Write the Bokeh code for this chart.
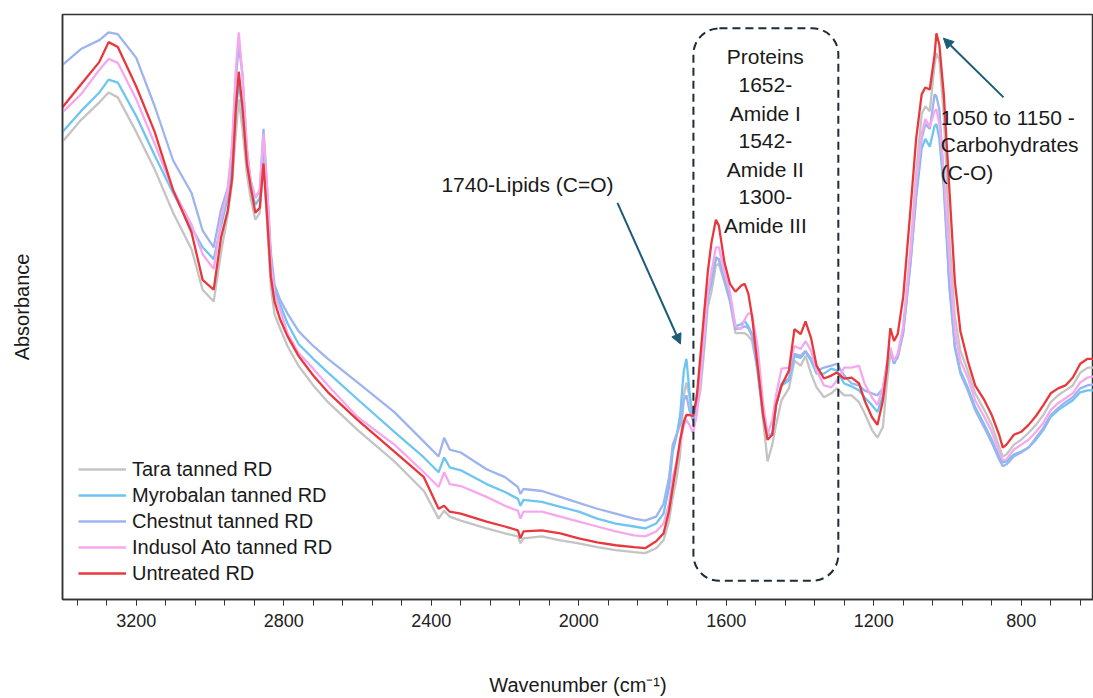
from bokeh.plotting import figure
from bokeh.models import Range1d, FixedTicker, Label, Arrow, NormalHead, Legend, LegendItem
from bokeh.embed import file_html
from bokeh.resources import INLINE

wavenumber = [3400, 3350, 3300, 3275, 3250, 3200, 3150, 3100, 3050, 3020,
              2990, 2970, 2952, 2940, 2930, 2922, 2912, 2900, 2890, 2877,
              2865, 2855, 2845, 2835, 2825, 2810, 2790, 2760, 2720, 2680,
              2600, 2500, 2420, 2380, 2365, 2350, 2320, 2250, 2200, 2165,
              2158, 2150, 2100, 2050, 2000, 1950, 1900, 1850, 1820, 1790,
              1770, 1755, 1745, 1735, 1725, 1715, 1708, 1700, 1690, 1680,
              1670, 1660, 1650, 1640, 1628, 1620, 1605, 1590, 1575, 1560,
              1550, 1540, 1530, 1515, 1500, 1488, 1475, 1465, 1450, 1430,
              1415, 1398, 1385, 1370, 1355, 1335, 1315, 1300, 1280, 1260,
              1240, 1225, 1205, 1190, 1175, 1165, 1155, 1145, 1135, 1120,
              1100, 1085, 1070, 1060, 1048, 1035, 1030, 1022, 1010, 995,
              980, 965, 945, 925, 900, 880, 860, 850, 840, 820,
              800, 780, 760, 740, 720, 700, 680, 660, 640, 620,
              604]

tara = [0.464, 0.486, 0.504, 0.514, 0.509, 0.474, 0.436, 0.392, 0.355, 0.314,
        0.302, 0.352, 0.390, 0.422, 0.472, 0.507, 0.477, 0.432, 0.407, 0.385,
        0.392, 0.444, 0.382, 0.317, 0.289, 0.275, 0.257, 0.237, 0.217, 0.200,
        0.172, 0.140, 0.110, 0.082, 0.090, 0.084, 0.080, 0.072, 0.067, 0.064,
        0.057, 0.062, 0.064, 0.060, 0.057, 0.053, 0.050, 0.048, 0.047, 0.052,
        0.060, 0.080, 0.104, 0.122, 0.147, 0.207, 0.220, 0.207, 0.182, 0.192,
        0.212, 0.252, 0.297, 0.312, 0.339, 0.340, 0.322, 0.302, 0.270, 0.270,
        0.270, 0.267, 0.262, 0.232, 0.182, 0.140, 0.157, 0.177, 0.202, 0.214,
        0.242, 0.237, 0.247, 0.229, 0.215, 0.205, 0.209, 0.214, 0.207, 0.207,
        0.200, 0.189, 0.172, 0.164, 0.175, 0.217, 0.250, 0.239, 0.247, 0.274,
        0.357, 0.432, 0.492, 0.500, 0.495, 0.542, 0.554, 0.547, 0.492, 0.367,
        0.287, 0.252, 0.232, 0.209, 0.192, 0.177, 0.155, 0.145, 0.147, 0.157,
        0.162, 0.169, 0.177, 0.187, 0.200, 0.207, 0.212, 0.217, 0.230, 0.235,
        0.235]

myrobalan = [0.474, 0.495, 0.514, 0.527, 0.524, 0.490, 0.450, 0.412, 0.377, 0.357,
             0.345, 0.379, 0.407, 0.442, 0.497, 0.522, 0.497, 0.447, 0.417, 0.400,
             0.407, 0.462, 0.407, 0.347, 0.314, 0.299, 0.280, 0.259, 0.244, 0.230,
             0.203, 0.170, 0.144, 0.129, 0.144, 0.134, 0.131, 0.117, 0.109, 0.102,
             0.095, 0.101, 0.099, 0.094, 0.089, 0.082, 0.077, 0.074, 0.072, 0.077,
             0.087, 0.114, 0.150, 0.165, 0.187, 0.232, 0.244, 0.212, 0.180, 0.197,
             0.222, 0.262, 0.307, 0.322, 0.345, 0.345, 0.324, 0.304, 0.277, 0.279,
             0.282, 0.277, 0.269, 0.232, 0.187, 0.167, 0.167, 0.197, 0.217, 0.222,
             0.247, 0.245, 0.251, 0.242, 0.229, 0.229, 0.234, 0.232, 0.219, 0.216,
             0.212, 0.205, 0.197, 0.190, 0.207, 0.232, 0.255, 0.239, 0.247, 0.272,
             0.342, 0.407, 0.457, 0.467, 0.459, 0.480, 0.482, 0.467, 0.417, 0.317,
             0.257, 0.232, 0.215, 0.195, 0.177, 0.162, 0.145, 0.139, 0.140, 0.147,
             0.150, 0.154, 0.162, 0.172, 0.185, 0.192, 0.197, 0.202, 0.210, 0.212,
             0.212]

chestnut = [0.542, 0.558, 0.567, 0.575, 0.573, 0.549, 0.500, 0.445, 0.412, 0.374,
            0.357, 0.395, 0.417, 0.457, 0.527, 0.562, 0.532, 0.457, 0.425, 0.407,
            0.415, 0.477, 0.417, 0.352, 0.319, 0.304, 0.290, 0.272, 0.257, 0.244,
            0.220, 0.190, 0.160, 0.145, 0.164, 0.152, 0.149, 0.132, 0.124, 0.114,
            0.107, 0.112, 0.110, 0.104, 0.098, 0.092, 0.087, 0.082, 0.080, 0.084,
            0.097, 0.124, 0.157, 0.167, 0.177, 0.202, 0.207, 0.192, 0.182, 0.207,
            0.227, 0.262, 0.307, 0.324, 0.347, 0.345, 0.324, 0.307, 0.274, 0.275,
            0.277, 0.275, 0.267, 0.237, 0.192, 0.167, 0.167, 0.197, 0.219, 0.224,
            0.249, 0.247, 0.252, 0.244, 0.232, 0.235, 0.237, 0.239, 0.227, 0.219,
            0.217, 0.212, 0.209, 0.207, 0.214, 0.237, 0.252, 0.241, 0.245, 0.270,
            0.342, 0.412, 0.467, 0.482, 0.477, 0.512, 0.510, 0.497, 0.427, 0.322,
            0.255, 0.229, 0.212, 0.192, 0.174, 0.159, 0.142, 0.135, 0.137, 0.145,
            0.149, 0.154, 0.164, 0.174, 0.187, 0.194, 0.200, 0.205, 0.214, 0.217,
            0.218]

indusol = [0.494, 0.512, 0.537, 0.548, 0.544, 0.507, 0.462, 0.415, 0.380, 0.350,
           0.335, 0.385, 0.414, 0.462, 0.537, 0.575, 0.532, 0.457, 0.424, 0.407,
           0.415, 0.472, 0.417, 0.342, 0.309, 0.294, 0.270, 0.250, 0.234, 0.217,
           0.185, 0.157, 0.129, 0.114, 0.129, 0.117, 0.115, 0.104, 0.095, 0.090,
           0.082, 0.089, 0.089, 0.084, 0.079, 0.074, 0.069, 0.065, 0.064, 0.069,
           0.077, 0.097, 0.124, 0.139, 0.157, 0.177, 0.182, 0.177, 0.169, 0.187,
           0.222, 0.267, 0.312, 0.332, 0.357, 0.357, 0.332, 0.312, 0.277, 0.274,
           0.284, 0.290, 0.289, 0.257, 0.199, 0.167, 0.182, 0.207, 0.234, 0.235,
           0.257, 0.254, 0.262, 0.252, 0.232, 0.217, 0.215, 0.222, 0.235, 0.235,
           0.237, 0.219, 0.205, 0.197, 0.215, 0.237, 0.255, 0.242, 0.249, 0.277,
           0.352, 0.422, 0.472, 0.487, 0.479, 0.495, 0.497, 0.482, 0.432, 0.347,
           0.272, 0.242, 0.225, 0.202, 0.185, 0.170, 0.150, 0.141, 0.142, 0.152,
           0.157, 0.162, 0.170, 0.179, 0.192, 0.199, 0.204, 0.209, 0.220, 0.225,
           0.226]

untreated = [0.499, 0.522, 0.545, 0.565, 0.560, 0.520, 0.474, 0.415, 0.372, 0.324,
             0.314, 0.367, 0.394, 0.427, 0.497, 0.535, 0.499, 0.442, 0.419, 0.392,
             0.397, 0.442, 0.387, 0.327, 0.302, 0.284, 0.267, 0.247, 0.227, 0.210,
             0.182, 0.150, 0.124, 0.092, 0.095, 0.089, 0.087, 0.079, 0.074, 0.070,
             0.062, 0.069, 0.070, 0.067, 0.062, 0.058, 0.055, 0.053, 0.052, 0.059,
             0.067, 0.090, 0.114, 0.137, 0.162, 0.180, 0.187, 0.187, 0.186, 0.205,
             0.247, 0.290, 0.332, 0.362, 0.385, 0.379, 0.342, 0.320, 0.312, 0.318,
             0.320, 0.310, 0.287, 0.237, 0.187, 0.162, 0.167, 0.197, 0.217, 0.232,
             0.274, 0.269, 0.282, 0.265, 0.237, 0.224, 0.227, 0.230, 0.224, 0.225,
             0.219, 0.202, 0.185, 0.177, 0.202, 0.232, 0.275, 0.262, 0.269, 0.307,
             0.397, 0.467, 0.512, 0.519, 0.517, 0.552, 0.574, 0.562, 0.512, 0.417,
             0.322, 0.272, 0.242, 0.217, 0.202, 0.187, 0.167, 0.154, 0.157, 0.167,
             0.170, 0.177, 0.186, 0.197, 0.209, 0.214, 0.217, 0.225, 0.239, 0.244,
             0.244]

series_names = ["Tara tanned RD", "Myrobalan tanned RD", "Chestnut tanned RD",
                "Indusol Ato tanned RD", "Untreated RD"]
series_values = [tara, myrobalan, chestnut, indusol, untreated]
series_colors = ["#c4c4c4", "#6ec5f2", "#9db4ef", "#f6a8ee", "#e8383c"]

major_ticks = [3200, 2800, 2400, 2000, 1600, 1200, 800]
minor_ticks = list(range(640, 3400, 80))

FONT = "Liberation Sans"

p = figure(width=1093, height=698, output_backend="svg", toolbar_location=None,
           x_range=Range1d(3400, 604), y_range=Range1d(0, 0.593),
           min_border_left=62, min_border_right=0, min_border_top=14, min_border_bottom=91)
p.background_fill_color = "white"
p.border_fill_color = "white"
p.outline_line_color = "#333333"
p.outline_line_width = 1.5
p.xgrid.visible = False
p.ygrid.visible = False

# x axis
p.xaxis.ticker = FixedTicker(ticks=major_ticks, minor_ticks=minor_ticks)
p.xaxis.axis_label = "Wavenumber (cm⁻¹)"
p.xaxis.axis_label_text_font = FONT
p.xaxis.axis_label_text_font_size = "20px"
p.xaxis.axis_label_text_font_style = "normal"
p.xaxis.axis_label_text_color = "#1a1a1a"
p.xaxis.axis_label_standoff = 44
p.xaxis.major_label_text_font = FONT
p.xaxis.major_label_text_font_size = "18px"
p.xaxis.major_label_text_color = "#222222"
p.xaxis.major_label_standoff = 8
p.xaxis.axis_line_color = "#333333"
p.xaxis.axis_line_width = 1.5
p.xaxis.major_tick_line_color = "#333333"
p.xaxis.minor_tick_line_color = "#333333"
p.xaxis.major_tick_in = 0
p.xaxis.major_tick_out = 6
p.xaxis.minor_tick_in = 0
p.xaxis.minor_tick_out = 6

# y axis
p.yaxis.ticker = FixedTicker(ticks=[])
p.yaxis.axis_label = "Absorbance"
p.yaxis.axis_label_text_font = FONT
p.yaxis.axis_label_text_font_size = "20px"
p.yaxis.axis_label_text_font_style = "normal"
p.yaxis.axis_label_text_color = "#1a1a1a"
p.yaxis.axis_label_standoff = 30
p.yaxis.axis_line_color = "#333333"
p.yaxis.axis_line_width = 1.5

# spectra
items = []
for name, vals, col in zip(series_names, series_values, series_colors):
    r = p.line(wavenumber, vals, line_color=col, line_width=2.3)
    items.append(LegendItem(label=name, renderers=[r]))

legend = Legend(items=items, location=(16, 13))
legend.glyph_width = 48
legend.glyph_height = 26
legend.label_height = 26
legend.spacing = 0
legend.padding = 0
legend.margin = 0
legend.label_standoff = 6
legend.border_line_color = None
legend.background_fill_alpha = 0
legend.label_text_font = FONT
legend.label_text_font_size = "20px"
legend.label_text_color = "#1a1a1a"
p.add_layout(legend)

# dashed protein box
box_color = "#1e2b38"
try:
    p.quad(left=[1689], right=[1296], top=[0.579], bottom=[0.019], fill_color=None,
           line_color=box_color, line_width=2, line_dash="8 5", border_radius=26)
except Exception:
    p.quad(left=[1689], right=[1296], top=[0.579], bottom=[0.019], fill_color=None,
           line_color=box_color, line_width=2, line_dash="8 5")

ANN = "#1a1a1a"
ANN_SIZE = "21px"
protein_lines = ["Proteins", "1652-", "Amide I", "1542-", "Amide II", "1300-", "Amide III"]
protein_ys = [0.550, 0.522, 0.493, 0.465, 0.436, 0.408, 0.379]
for txt, yy in zip(protein_lines, protein_ys):
    p.add_layout(Label(x=1494, y=yy, text=txt, text_align="center", text_baseline="middle",
                       text_font=FONT, text_font_size=ANN_SIZE, text_color=ANN))

carb_lines = ["1050 to 1150 -", "Carbohydrates", "(C-O)"]
carb_ys = [0.489, 0.461, 0.433]
for txt, yy in zip(carb_lines, carb_ys):
    p.add_layout(Label(x=1018, y=yy, text=txt, text_align="left", text_baseline="middle",
                       text_font=FONT, text_font_size=ANN_SIZE, text_color=ANN))

p.add_layout(Label(x=2139, y=0.421, text="1740-Lipids (C=O)", text_align="center",
                   text_baseline="middle", text_font=FONT, text_font_size=ANN_SIZE,
                   text_color=ANN))

arrow_color = "#1d5b79"
p.add_layout(Arrow(end=NormalHead(size=10, fill_color=arrow_color, line_color=arrow_color),
                   x_start=1895, y_start=0.402, x_end=1724, y_end=0.259,
                   line_color=arrow_color, line_width=2))
p.add_layout(Arrow(end=NormalHead(size=10, fill_color=arrow_color, line_color=arrow_color),
                   x_start=848, y_start=0.509, x_end=1011, y_end=0.569,
                   line_color=arrow_color, line_width=2))

open("out.html", "w").write(file_html(p, INLINE))
